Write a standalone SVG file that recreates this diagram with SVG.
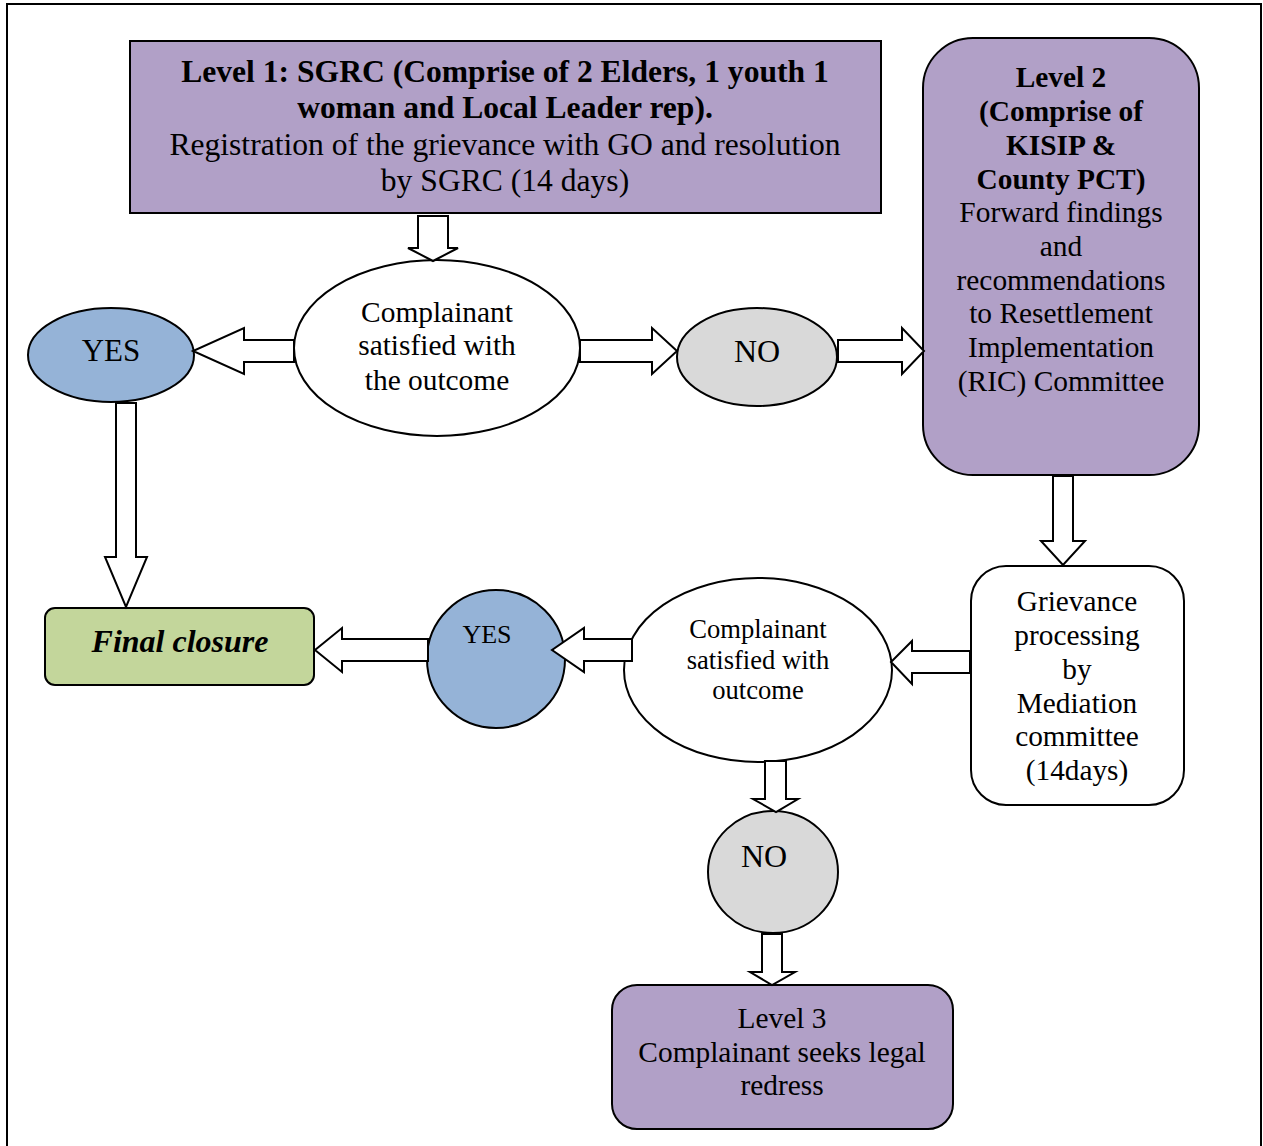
<svg xmlns="http://www.w3.org/2000/svg" width="1263" height="1146" viewBox="0 0 1263 1146">
<style>
.t{font-family:"Liberation Serif","Times New Roman",serif;fill:#000;text-anchor:middle}
.b{font-weight:bold}
.ln{stroke:#000;stroke-width:2}
.arr{fill:#fff;stroke:#000;stroke-width:2;stroke-linejoin:miter}
.purple{fill:#b1a0c7}
</style>
<rect x="0" y="0" width="1263" height="1146" fill="#fff"/>
<path d="M7 1146 V4 H1261 V1146" fill="none" stroke="#000" stroke-width="2"/>
<g id="level1">
<rect x="130" y="41" width="751" height="172" class="purple ln"/>
<text class="t b" x="505" y="82" font-size="31.6">Level 1: SGRC (Comprise of 2 Elders, 1 youth 1</text>
<text class="t b" x="505" y="118" font-size="31.6">woman and Local Leader rep).</text>
<text class="t" x="505" y="155" font-size="31.6">Registration of the grievance with GO and resolution</text>
<text class="t" x="505" y="191" font-size="31.6">by SGRC (14 days)</text>
</g>
<g id="level2">
<rect x="923" y="38" width="276" height="437" rx="50" class="purple ln"/>
<text class="t b" x="1061" y="87" font-size="29.4">Level 2</text>
<text class="t b" x="1061" y="121" font-size="29.4">(Comprise of</text>
<text class="t b" x="1061" y="155" font-size="29.4">KISIP &amp;</text>
<text class="t b" x="1061" y="189" font-size="29.4">County PCT)</text>
<text class="t" x="1061" y="222" font-size="29.4">Forward findings</text>
<text class="t" x="1061" y="256" font-size="29.4">and</text>
<text class="t" x="1061" y="290" font-size="29.4">recommendations</text>
<text class="t" x="1061" y="323" font-size="29.4">to Resettlement</text>
<text class="t" x="1061" y="357" font-size="29.4">Implementation</text>
<text class="t" x="1061" y="391" font-size="29.4">(RIC) Committee</text>
</g>
<g id="decision1">
<ellipse cx="437" cy="348" rx="143" ry="88" fill="#fff" class="ln"/>
<text class="t" x="437" y="322" font-size="29.4">Complainant</text>
<text class="t" x="437" y="355" font-size="29.4">satisfied with</text>
<text class="t" x="437" y="390" font-size="29.4">the outcome</text>
</g>
<g id="yes1">
<ellipse cx="111" cy="355" rx="83" ry="47" fill="#95b3d7" class="ln"/>
<text class="t" x="111" y="361" font-size="31">YES</text>
</g>
<g id="no1">
<ellipse cx="757" cy="357" rx="80" ry="49" fill="#d9d9d9" class="ln"/>
<text class="t" x="757" y="362" font-size="32">NO</text>
</g>
<g id="final">
<rect x="45" y="608" width="269" height="77" rx="10" fill="#c3d69b" class="ln"/>
<text class="t b" x="180" y="652" font-size="32" font-style="italic">Final closure</text>
</g>
<g id="yes2">
<ellipse cx="496" cy="659" rx="69" ry="69" fill="#95b3d7" class="ln"/>
<text class="t" x="487" y="643" font-size="26">YES</text>
</g>
<g id="decision2">
<ellipse cx="758" cy="670" rx="134" ry="92" fill="#fff" class="ln"/>
<text class="t" x="758" y="638" font-size="26.6">Complainant</text>
<text class="t" x="758" y="669" font-size="26.6">satisfied with</text>
<text class="t" x="758" y="699" font-size="26.6">outcome</text>
</g>
<g id="grievance">
<rect x="971" y="566" width="213" height="239" rx="35" fill="#fff" class="ln"/>
<text class="t" x="1077" y="611" font-size="29.3">Grievance</text>
<text class="t" x="1077" y="645" font-size="29.3">processing</text>
<text class="t" x="1077" y="679" font-size="29.3">by</text>
<text class="t" x="1077" y="713" font-size="29.3">Mediation</text>
<text class="t" x="1077" y="746" font-size="29.3">committee</text>
<text class="t" x="1077" y="780" font-size="29.3">(14days)</text>
</g>
<g id="no2">
<ellipse cx="773" cy="872" rx="65" ry="61" fill="#d9d9d9" class="ln"/>
<text class="t" x="764" y="867" font-size="32">NO</text>
</g>
<g id="level3">
<rect x="612" y="985" width="341" height="144" rx="25" class="purple ln"/>
<text class="t" x="782" y="1028" font-size="29.4">Level 3</text>
<text class="t" x="782" y="1062" font-size="29.4">Complainant seeks legal</text>
<text class="t" x="782" y="1095" font-size="29.4">redress</text>
</g>
<g id="connectors">
<polygon class="arr" points="418,216 448,216 448,248 458,248 433,261 408,248 418,248"/>
<polygon class="arr" points="294,340 244,340 244,328 193,351 244,374 244,362 294,362"/>
<polygon class="arr" points="580,340 652,340 652,328 677,351 652,374 652,362 580,362"/>
<polygon class="arr" points="838,340 902,340 902,328 924,351 902,374 902,362 838,362"/>
<polygon class="arr" points="116,403 136,403 136,557 147,557 126,607 105,557 116,557"/>
<polygon class="arr" points="1053,476 1073,476 1073,541 1085,541 1063,565 1041,541 1053,541"/>
<polygon class="arr" points="970,651 912,651 912,641 891,662 912,684 912,673 970,673"/>
<polygon class="arr" points="632,639 584,639 584,628 552,650 584,672 584,661 632,661"/>
<polygon class="arr" points="428,639 342,639 342,628 315,650 342,672 342,661 428,661"/>
<polygon class="arr" points="765,761 786,761 786,799 798,799 776,812 753,799 765,799"/>
<polygon class="arr" points="762,934 782,934 782,972 795,972 772,985 750,972 762,972"/>
</g>
</svg>
